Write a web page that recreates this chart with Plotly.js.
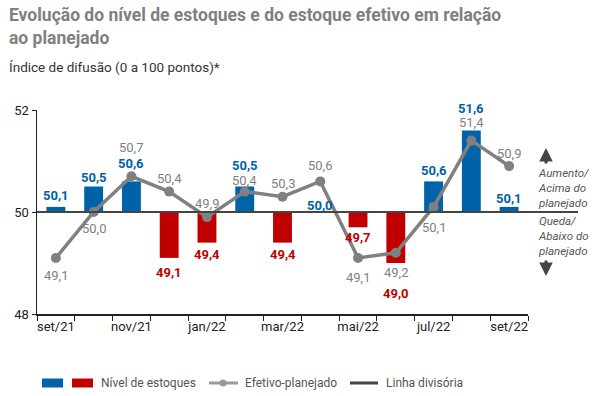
<!DOCTYPE html>
<html>
<head>
<meta charset="utf-8">
<script src="https://cdn.plot.ly/plotly-3.0.1.min.js"></script>
<style>html,body{margin:0;padding:0;background:#fff;}#chart{width:594px;height:396px;}</style>
</head>
<body>
<div id="chart"></div>
<script>
// ---- Data ----
var months = ["set/21","out/21","nov/21","dez/21","jan/22","fev/22","mar/22","abr/22","mai/22","jun/22","jul/22","ago/22","set/22"];
var tickLabels = ["set/21","","nov/21","","jan/22","","mar/22","","mai/22","","jul/22","","set/22"];
var nivelEstoques = [50.1,50.5,50.6,49.1,49.4,50.5,49.4,50.0,49.7,49.0,50.6,51.6,50.1];
var efetivoPlanejado = [49.1,50.0,50.7,50.4,49.9,50.4,50.3,50.6,49.1,49.2,50.1,51.4,50.9];
var baseline = 50;

// label offsets in pixels (style only)
var barLabelShift = [11,9,18,-15,-12,21,-12,7,-10,-30,11,22,8];
var lineLabelShift = [-18,-16,29,13,14,11,13,16,-20,-20,-21,18,13];

var FONT = "Roboto, 'DejaVu Sans', sans-serif";
var BLUE = "#0062a8", RED = "#c00000", GRAY = "#808080", DARK = "#444444";

// plot area geometry (pixels) for placing decorations
var L = 37, R = 528, T = 110, B = 314;
function px(x){ return (x - L) / (R - L); }
function py(y){ return (B - y) / (B - T); }

var barColors = nivelEstoques.map(function(v){ return v >= baseline ? BLUE : RED; });

var traces = [
  {
    type: "bar", x: months,
    y: nivelEstoques.map(function(v){ return v - baseline; }),
    base: baseline, width: 0.5,
    marker: {color: barColors}, showlegend: false, hoverinfo: "skip"
  },
  {
    type: "scatter", mode: "lines+markers", x: months, y: efetivoPlanejado,
    line: {color: GRAY, width: 3.5}, marker: {color: GRAY, size: 10},
    showlegend: false, hoverinfo: "skip", cliponaxis: false
  }
];

var fmt = function(v){ return v.toFixed(1).replace(".", ","); };

var annotations = [];
months.forEach(function(m, i){
  var v = nivelEstoques[i];
  annotations.push({
    x: m, y: v, xref: "x", yref: "y", text: "<b>" + fmt(v) + "</b>",
    showarrow: false, yanchor: "middle", yshift: barLabelShift[i],
    font: {family: FONT, size: 13, color: barColors[i]}
  });
  var e = efetivoPlanejado[i];
  annotations.push({
    x: m, y: e, xref: "x", yref: "y", text: fmt(e),
    showarrow: false, yanchor: "middle", yshift: lineLabelShift[i],
    font: {family: FONT, size: 13, color: GRAY}
  });
});

// Title & subtitle
annotations.push({xref:"paper", yref:"paper", x:px(7), y:py(27), xanchor:"left", yanchor:"middle",
  text:"<b>Evolução do nível de estoques e do estoque efetivo em relação<br>ao planejado</b>",
  align:"left", showarrow:false, font:{family:FONT, size:17.5, color:"#7f7f7f"}});
annotations.push({xref:"paper", yref:"paper", x:px(7), y:py(67), xanchor:"left", yanchor:"middle",
  text:"Índice de difusão (0 a 100 pontos)*", align:"left", showarrow:false,
  font:{family:FONT, size:13.5, color:"#333333"}});

// Right-side notes
annotations.push({xref:"paper", yref:"paper", x:px(536), y:py(188), xanchor:"left", yanchor:"middle",
  text:"<i>Aumento/<br>Acima do<br>planejado</i>", align:"left", showarrow:false,
  font:{family:FONT, size:11.5, color:"#555555"}});
annotations.push({xref:"paper", yref:"paper", x:px(536), y:py(236), xanchor:"left", yanchor:"middle",
  text:"<i>Queda/<br>Abaixo do<br>planejado</i>", align:"left", showarrow:false,
  font:{family:FONT, size:11.5, color:"#555555"}});
// arrows
annotations.push({xref:"paper", yref:"paper", x:px(546), y:py(148), ax:0, ay:17, text:"", showarrow:true,
  arrowhead:2, arrowsize:0.9, arrowwidth:3, arrowcolor:DARK});
annotations.push({xref:"paper", yref:"paper", x:px(546), y:py(276), ax:0, ay:-17, text:"", showarrow:true,
  arrowhead:2, arrowsize:0.9, arrowwidth:3, arrowcolor:DARK});

// Custom legend
var legY = py(383);
var legFont = {family:FONT, size:12, color:"#555555"};
annotations.push({xref:"paper", yref:"paper", x:px(99), y:legY, xanchor:"left", yanchor:"middle",
  text:"Nível de estoques", showarrow:false, font:legFont});
annotations.push({xref:"paper", yref:"paper", x:px(243), y:legY, xanchor:"left", yanchor:"middle",
  text:"Efetivo-planejado", showarrow:false, font:legFont});
annotations.push({xref:"paper", yref:"paper", x:px(384), y:legY, xanchor:"left", yanchor:"middle",
  text:"Linha divisória", showarrow:false, font:legFont});

var sq = 4.5 / (B - T);
var shapes = [
  // divider line at 50
  {type:"line", xref:"paper", yref:"y", x0:0, x1:px(578), y0:baseline, y1:baseline,
   line:{color:DARK, width:2}},
  // legend symbols
  {type:"rect", xref:"paper", yref:"paper", x0:px(42), x1:px(63), y0:legY-sq, y1:legY+sq,
   fillcolor:BLUE, line:{width:0}},
  {type:"rect", xref:"paper", yref:"paper", x0:px(72), x1:px(93), y0:legY-sq, y1:legY+sq,
   fillcolor:RED, line:{width:0}},
  {type:"line", xref:"paper", yref:"paper", x0:px(209), x1:px(238), y0:legY, y1:legY,
   line:{color:"#9a9a9a", width:3}},
  {type:"circle", xref:"paper", yref:"paper", x0:px(219.5), x1:px(226.5), y0:legY-3.5/(B-T), y1:legY+3.5/(B-T),
   fillcolor:"#9a9a9a", line:{width:0}},
  {type:"line", xref:"paper", yref:"paper", x0:px(350), x1:px(378), y0:legY, y1:legY,
   line:{color:DARK, width:3}}
];

var layout = {
  width: 594, height: 396,
  margin: {l: L, r: 594 - R, t: T, b: 396 - B},
  paper_bgcolor: "#ffffff", plot_bgcolor: "#ffffff",
  font: {family: FONT, size: 13, color: "#222"},
  showlegend: false,
  xaxis: {
    type: "category", range: [-0.5, 12.5],
    tickmode: "array", tickvals: months, ticktext: tickLabels, tickangle: 0,
    tickson: "boundaries", ticks: "outside", ticklen: 5, tickcolor: "#222",
    showline: true, linecolor: "#222", linewidth: 1.5, showgrid: false,
    tickfont: {family: FONT, size: 13, color: "#222"}, fixedrange: true
  },
  yaxis: {
    range: [48, 52], tickvals: [48, 50, 52], ticks: "outside", ticklen: 4, tickcolor: "#222",
    showline: true, linecolor: "#222", linewidth: 1.5,
    showgrid: true, gridcolor: "#bdbdbd", gridwidth: 1, zeroline: false,
    tickfont: {family: FONT, size: 13, color: "#222"}, fixedrange: true
  },
  annotations: annotations,
  shapes: shapes
};

Plotly.newPlot("chart", traces, layout, {staticPlot: true, displayModeBar: false});
</script>
</body>
</html>
